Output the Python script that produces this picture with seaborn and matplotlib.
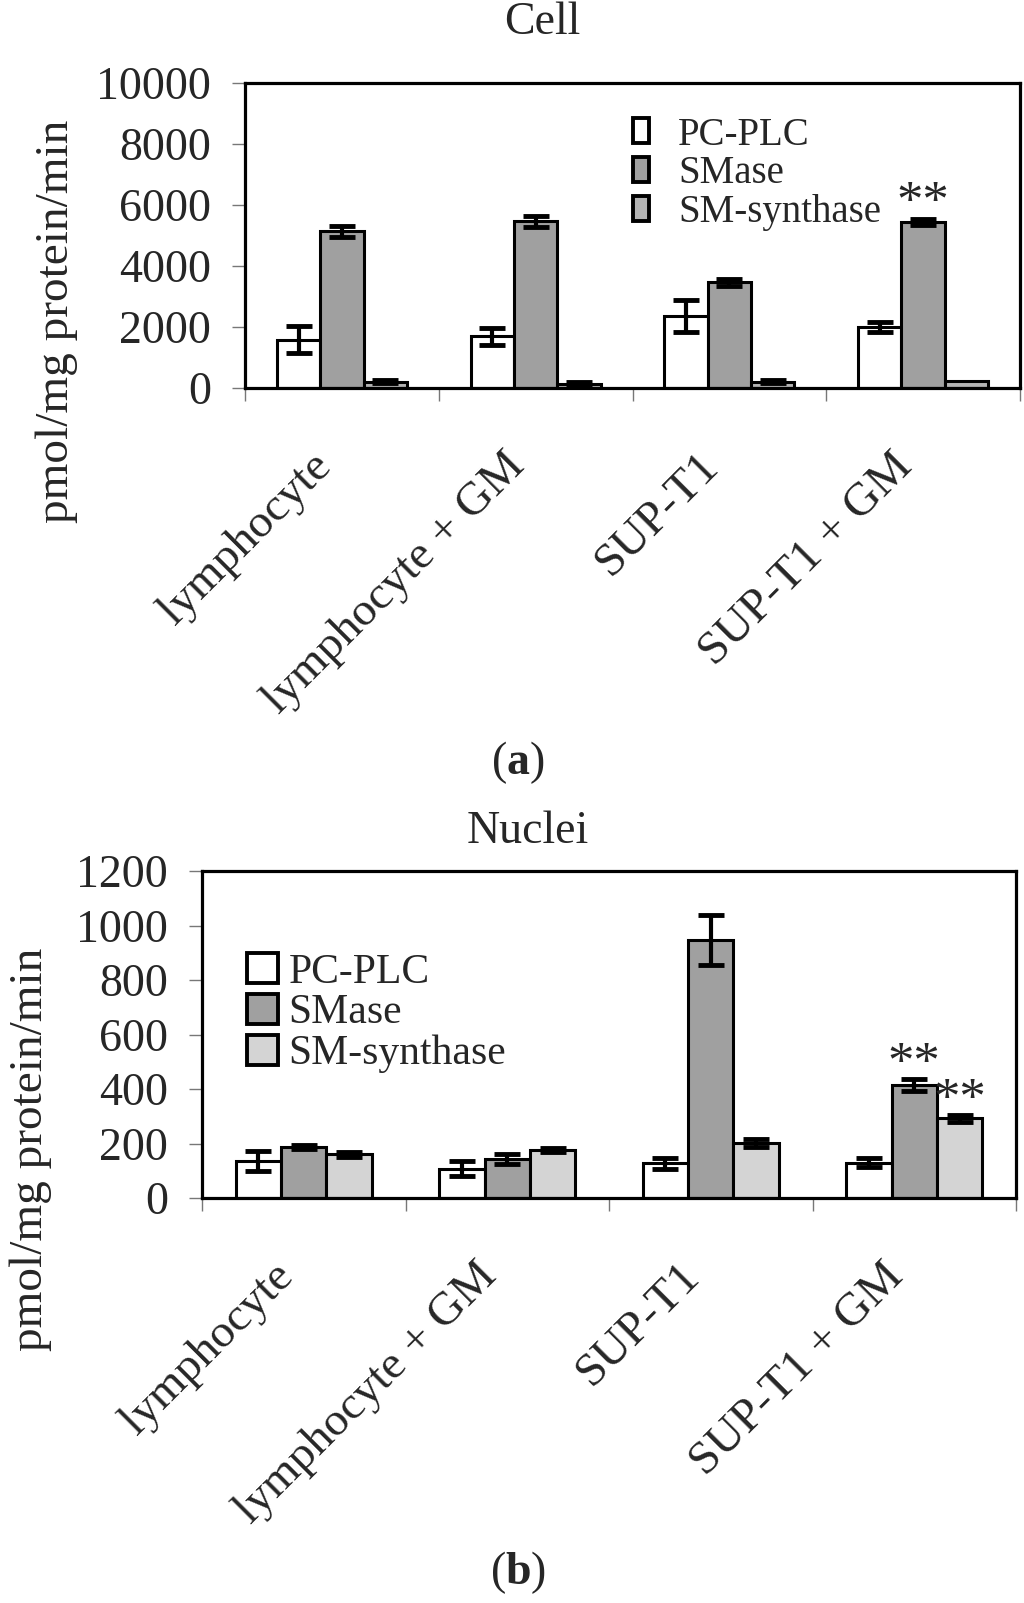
import numpy as np
import pandas as pd
import matplotlib
matplotlib.use('Agg')
import matplotlib.pyplot as plt
import matplotlib.transforms as mtransforms
import seaborn as sns

# categories
groups = ['lymphocyte', 'lymphocyte + GM', 'SUP-T1', 'SUP-T1 + GM']
enzymes = ['PC-PLC', 'SMase', 'SM-synthase']

# (a) Cell
cell_pcplc = [1585, 1690, 2370, 2010]
cell_pcplc_err = [450, 290, 520, 160]
cell_smase = [5140, 5460, 3470, 5450]
cell_smase_err = [180, 180, 110, 100]
cell_sms = [210, 140, 210, 220]
cell_sms_err = [60, 60, 50, 0]
cell_stars = ['', '', '', '**']

# (b) Nuclei
nuc_pcplc = [135, 108, 128, 130]
nuc_pcplc_err = [36, 27, 20, 18]
nuc_smase = [187, 143, 948, 415]
nuc_smase_err = [8, 18, 92, 22]
nuc_sms = [160, 177, 201, 292]
nuc_sms_err = [8, 8, 14, 12]
nuc_stars_smase = ['', '', '', '**']
nuc_stars_sms = ['', '', '', '**']

ylabel = 'pmol/mg protein/min'

sns.set_style('white')
plt.rcParams['font.family'] = ['Liberation Serif', 'DejaVu Serif']
plt.rcParams['mathtext.fontset'] = 'custom'
plt.rcParams['mathtext.rm'] = 'Liberation Serif'
plt.rcParams['mathtext.bf'] = 'Liberation Serif:bold'


def long_table(a, b, c):
    return pd.DataFrame({
        'group': groups * 3,
        'enzyme': np.repeat(enzymes, len(groups)),
        'value': a + b + c,
    })


def draw_panel(fig, ax, df, errs, colors, ymax, ystep):
    sns.barplot(data=df, x='group', y='value', hue='enzyme', order=groups,
                hue_order=enzymes, palette=dict(zip(enzymes, colors)),
                width=0.67, gap=0, saturation=1, errorbar=None,
                edgecolor='black', linewidth=2.2, ax=ax)
    for cont, err in zip(ax.containers, errs):
        for bar, e in zip(cont, err):
            if e <= 0:
                continue
            x = bar.get_x() + bar.get_width() / 2
            ax.errorbar(x, bar.get_height(), yerr=e, fmt='none', ecolor='black',
                        elinewidth=3, capsize=9.5, capthick=3.5, zorder=4)
    ax.set_ylim(0, ymax)
    ax.set_yticks(np.arange(0, ymax + 1, ystep))
    ax.set_xlim(-0.5, len(groups) - 0.5)
    ax.set_xticks(np.arange(-0.5, len(groups), 1), minor=True)
    ax.tick_params(axis='x', which='minor', bottom=True, length=9, width=1,
                   color='#777777', direction='out')
    ax.tick_params(axis='x', which='major', length=0, pad=28)
    ax.tick_params(axis='y', left=True, length=9.5, width=1, color='#777777',
                   direction='out', labelsize=33, pad=15)
    ax.set_xticklabels(groups, rotation=45, ha='right', va='top',
                       rotation_mode='anchor', fontsize=34)
    shift = mtransforms.ScaledTranslation(-32 / 100, -18 / 100, fig.dpi_scale_trans)
    for lab in ax.get_xticklabels():
        lab.set_transform(lab.get_transform() + shift)
    ax.set_xlabel('')
    ax.set_ylabel(ylabel, fontsize=34)
    ax.yaxis.label.set_va('center')
    for s in ax.spines.values():
        s.set_linewidth(2.3)
        s.set_color('black')


def star(ax, bar, e, text):
    if not text:
        return
    x = bar.get_x() + bar.get_width() / 2
    ax.annotate(text, xy=(x, bar.get_height() + e), xytext=(0, -7),
                textcoords='offset points', ha='center', va='bottom', fontsize=38)


def legend(ax, fontsize, hl, hh, pad, anchor):
    handles, labels = ax.get_legend_handles_labels()
    for h in handles:
        h.set_edgecolor('black')
        h.set_linewidth(2.8)
    ax.legend(handles, labels, loc='upper left', bbox_to_anchor=anchor,
              frameon=False, fontsize=fontsize, handlelength=hl, handleheight=hh,
              handletextpad=pad, labelspacing=0.05, borderaxespad=0,
              borderpad=0)


fig = plt.figure(figsize=(10.24, 16.03), dpi=100)

# top panel
ax1 = fig.add_axes([245 / 1024, 1 - 388 / 1603, 775 / 1024, 305 / 1603])
draw_panel(fig, ax1, long_table(cell_pcplc, cell_smase, cell_sms),
           [cell_pcplc_err, cell_smase_err, cell_sms_err],
           ['white', '#A0A0A0', '#B4B4B4'], 10000, 2000)
ax1.yaxis.set_label_coords(-0.243, 0.22)
for bar, e, t in zip(ax1.containers[1], cell_smase_err, cell_stars):
    star(ax1, bar, e, t)
legend(ax1, 28, 0.42, 0.6, 0.75, (0.5, 0.89))

# bottom panel
ax2 = fig.add_axes([202 / 1024, 1 - 1198 / 1603, 814 / 1024, 327 / 1603])
draw_panel(fig, ax2, long_table(nuc_pcplc, nuc_smase, nuc_sms),
           [nuc_pcplc_err, nuc_smase_err, nuc_sms_err],
           ['white', '#A0A0A0', '#D4D4D4'], 1200, 200)
ax2.yaxis.set_label_coords(-0.210, 0.15)
for bar, e, t in zip(ax2.containers[1], nuc_smase_err, nuc_stars_smase):
    star(ax2, bar, e, t)
for bar, e, t in zip(ax2.containers[2], nuc_sms_err, nuc_stars_sms):
    star(ax2, bar, e, t)
legend(ax2, 30, 0.75, 0.75, 0.25, (0.055, 0.75))

fig.text(542 / 1024, 1 - 23 / 1603, 'Cell', ha='center', va='center', fontsize=33)
fig.text(528 / 1024, 1 - 832 / 1603, 'Nuclei', ha='center', va='center', fontsize=33)
fig.text(518 / 1024, 1 - 763 / 1603, r'($\mathbf{a}$)', ha='center', va='center', fontsize=33)
fig.text(518 / 1024, 1 - 1573 / 1603, r'($\mathbf{b}$)', ha='center', va='center', fontsize=33)

fig.savefig('out.png', dpi=100)
